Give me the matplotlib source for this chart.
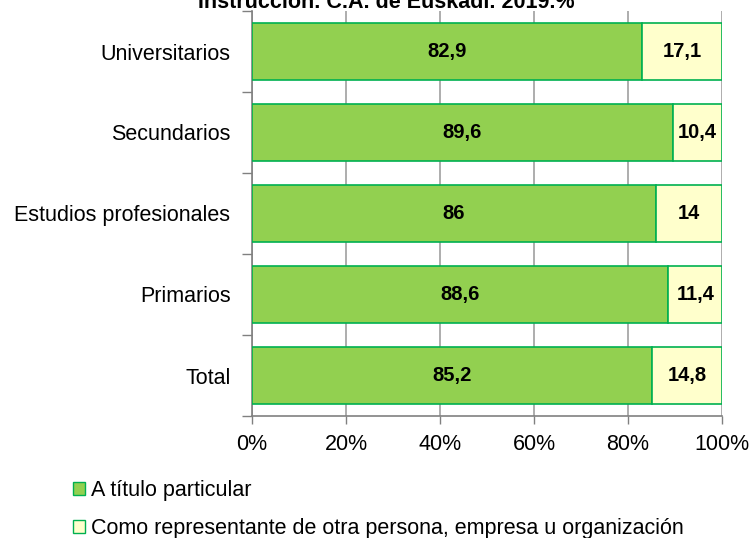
import matplotlib
matplotlib.use("Agg")
import matplotlib.pyplot as plt
from matplotlib.patches import Patch

categories = ["Universitarios", "Secundarios", "Estudios profesionales", "Primarios", "Total"]
particular = [82.9, 89.6, 86, 88.6, 85.2]
representante = [17.1, 10.4, 14, 11.4, 14.8]
labels_p = ["82,9", "89,6", "86", "88,6", "85,2"]
labels_r = ["17,1", "10,4", "14", "11,4", "14,8"]
xticks = [0, 20, 40, 60, 80, 100]
xticklabels = ["0%", "20%", "40%", "60%", "80%", "100%"]
series_names = ["A título particular", "Como representante de otra persona, empresa u organización"]
title = "Instrucción. C.A. de Euskadi. 2019.%"

plt.rcParams['font.family'] = ['Liberation Sans', 'DejaVu Sans']

fig = plt.figure(figsize=(7.53, 5.38), dpi=100)
W, H = 753, 538
ax = fig.add_axes([252 / W, 1 - 416 / H, (722 - 252) / W, (416 - 11) / H])

green = "#92D050"
yellow = "#FFFFCC"
edge = "#00B050"

y = list(range(len(categories)))
h = 0.70
ax.barh(y, particular, height=h, color=green, edgecolor=edge, linewidth=1.2, zorder=3)
ax.barh(y, representante, left=particular, height=h, color=yellow, edgecolor=edge, linewidth=1.2, zorder=3)

for i in y:
    ax.text(particular[i] / 2, i, labels_p[i], ha="center", va="center",
            fontsize=14.5, fontweight="bold", zorder=4)
    ax.text(particular[i] + representante[i] / 2, i, labels_r[i], ha="center", va="center",
            fontsize=14.5, fontweight="bold", zorder=4)

ax.set_xlim(0, 100)
ax.set_ylim(len(categories) - 0.5, -0.5)
ax.set_xticks(xticks)
ax.set_xticklabels(xticklabels, fontsize=15.5)
ax.set_yticks(y)
ax.set_yticklabels(categories, fontsize=15.5)
ax.tick_params(axis="y", length=0, pad=15.5)
ax.set_yticks([i - 0.5 for i in range(len(categories) + 1)], minor=True)
ax.tick_params(axis="y", which="minor", length=7, color="#808080", width=1)
ax.tick_params(axis="x", length=6, color="#808080", width=1, pad=7)

ax.grid(axis="x", color="#A0A0A0", linewidth=1.2, zorder=0)
ax.set_axisbelow(True)
for s in ["top", "right"]:
    ax.spines[s].set_visible(False)
for s in ["left", "bottom"]:
    ax.spines[s].set_color("#808080")
    ax.spines[s].set_linewidth(1.2)

fig.text(386 / W, 1 - 8 / H, title, ha="center", va="baseline", fontsize=15.5, fontweight="bold")

handles = [Patch(facecolor=green, edgecolor=edge), Patch(facecolor=yellow, edgecolor=edge)]
fig.legend(handles, series_names, loc="upper left", bbox_to_anchor=(73 / W, 1 - 480 / H),
           frameon=False, fontsize=15.5, handlelength=0.55, handleheight=0.55, handletextpad=0.3,
           labelspacing=0.8, borderaxespad=0, borderpad=0)

fig.savefig("out.png", dpi=100)
